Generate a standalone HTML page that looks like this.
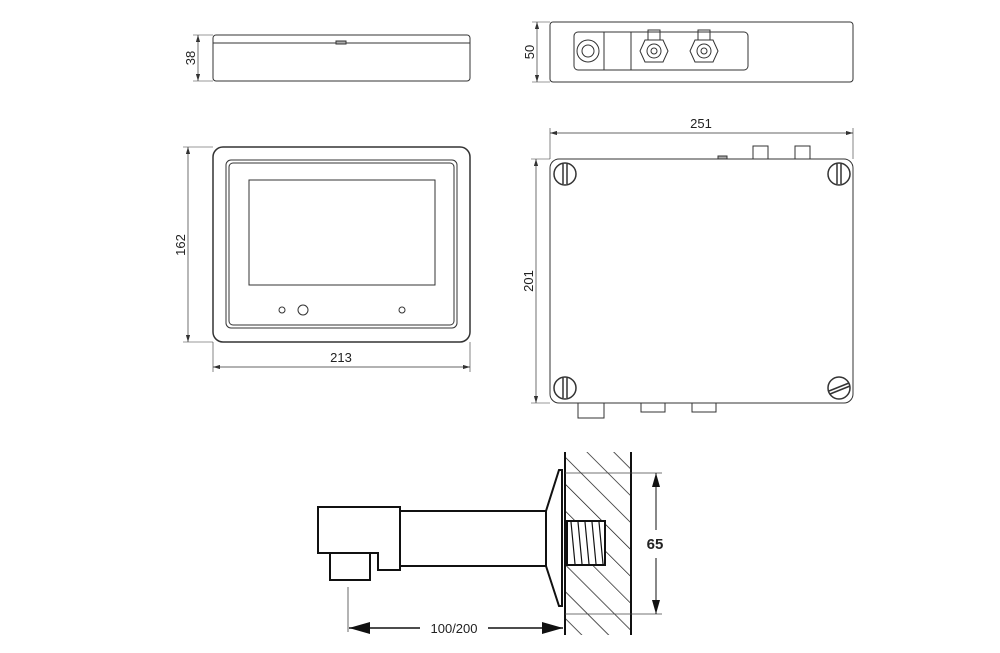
<!DOCTYPE html>
<html><head><style>body{margin:0;background:#fff}svg{display:block}text{font-family:"Liberation Sans",sans-serif;fill:#222}</style></head><body>
<svg width="1000" height="653" viewBox="0 0 1000 653" xmlns="http://www.w3.org/2000/svg">
<defs>
<marker id="a" viewBox="0 0 10 6" refX="10" refY="3" markerWidth="10" markerHeight="6" orient="auto-start-reverse"><path d="M0,0L10,3L0,6z" fill="#333"/></marker>
<marker id="b" viewBox="0 0 14 8" refX="14" refY="4" markerWidth="14" markerHeight="8" orient="auto-start-reverse"><path d="M0,0L14,4L0,8z" fill="#111"/></marker>
<pattern id="h" width="19" height="19" patternUnits="userSpaceOnUse" patternTransform="rotate(-45)"><line x1="0" y1="0" x2="0" y2="19" stroke="#111" stroke-width="1.4"/></pattern>
</defs>
<g fill="none" stroke="#333" stroke-width="1">
<rect x="213" y="35" width="257" height="46" rx="3"/>
<line x1="213" y1="43" x2="470" y2="43"/>
<rect x="336" y="41" width="10" height="3" fill="#aaa"/>
<line x1="198" y1="35" x2="198" y2="81" marker-start="url(#a)" marker-end="url(#a)" stroke-width="0.7"/>
<line x1="193" y1="35" x2="213" y2="35" stroke-width="0.6"/><line x1="193" y1="81" x2="213" y2="81" stroke-width="0.6"/>
<rect x="213" y="147" width="257" height="195" rx="10" stroke-width="1.5"/>
<rect x="226" y="160" width="231" height="168" rx="5"/>
<rect x="229" y="163" width="225" height="162" rx="4"/>
<rect x="249" y="180" width="186" height="105"/>
<circle cx="282" cy="310" r="3"/><circle cx="303" cy="310" r="5"/><circle cx="402" cy="310" r="3"/>
<line x1="188" y1="147" x2="188" y2="342" marker-start="url(#a)" marker-end="url(#a)" stroke-width="0.7"/>
<line x1="183" y1="147" x2="213" y2="147" stroke-width="0.6"/><line x1="183" y1="342" x2="213" y2="342" stroke-width="0.6"/>
<line x1="213" y1="367" x2="470" y2="367" marker-start="url(#a)" marker-end="url(#a)" stroke-width="0.7"/>
<line x1="213" y1="342" x2="213" y2="372" stroke-width="0.6"/><line x1="470" y1="342" x2="470" y2="372" stroke-width="0.6"/>
<rect x="550" y="22" width="303" height="60" rx="3"/>
<rect x="574" y="32" width="174" height="38" rx="4"/>
<line x1="604" y1="32" x2="604" y2="70"/><line x1="631" y1="32" x2="631" y2="70"/>
<circle cx="588" cy="51" r="11"/><circle cx="588" cy="51" r="6"/>
<path d="M645,40h18l5,11l-5,11h-18l-5,-11z"/><circle cx="654" cy="51" r="7"/><circle cx="654" cy="51" r="3"/>
<path d="M695,40h18l5,11l-5,11h-18l-5,-11z"/><circle cx="704" cy="51" r="7"/><circle cx="704" cy="51" r="3"/>
<rect x="648" y="30" width="12" height="10"/><rect x="698" y="30" width="12" height="10"/>
<line x1="537" y1="22" x2="537" y2="82" marker-start="url(#a)" marker-end="url(#a)" stroke-width="0.7"/>
<line x1="532" y1="22" x2="550" y2="22" stroke-width="0.6"/><line x1="532" y1="82" x2="550" y2="82" stroke-width="0.6"/>
<rect x="550" y="159" width="303" height="244" rx="9"/>
<rect x="753" y="146" width="15" height="13"/><rect x="795" y="146" width="15" height="13"/>
<rect x="718" y="156" width="9" height="3" fill="#aaa"/>
<rect x="578" y="403" width="26" height="15"/><rect x="641" y="403" width="24" height="9"/><rect x="692" y="403" width="24" height="9"/>
<g stroke-width="1.5">
<circle cx="565" cy="174" r="11"/><line x1="563" y1="164" x2="563" y2="184"/><line x1="567" y1="164" x2="567" y2="184"/>
<circle cx="839" cy="174" r="11"/><line x1="837" y1="164" x2="837" y2="184"/><line x1="841" y1="164" x2="841" y2="184"/>
<circle cx="565" cy="388" r="11"/><line x1="563" y1="378" x2="563" y2="398"/><line x1="567" y1="378" x2="567" y2="398"/>
<circle cx="839" cy="388" r="11"/><line x1="829" y1="391" x2="849" y2="383"/><line x1="830" y1="394" x2="850" y2="386"/>
</g>
<line x1="550" y1="133" x2="853" y2="133" marker-start="url(#a)" marker-end="url(#a)" stroke-width="0.7"/>
<line x1="550" y1="128" x2="550" y2="159" stroke-width="0.6"/><line x1="853" y1="128" x2="853" y2="159" stroke-width="0.6"/>
<line x1="536" y1="159" x2="536" y2="403" marker-start="url(#a)" marker-end="url(#a)" stroke-width="0.7"/>
<line x1="531" y1="159" x2="550" y2="159" stroke-width="0.6"/><line x1="531" y1="403" x2="550" y2="403" stroke-width="0.6"/>
</g>
<rect x="565" y="452" width="66" height="183" fill="url(#h)"/>
<g fill="none" stroke="#111" stroke-width="2">
<line x1="565" y1="452" x2="565" y2="635"/><line x1="631" y1="452" x2="631" y2="635"/>
<path d="M318,507h82v63h-22v-17h-60z" fill="#fff"/>
<rect x="330" y="553" width="40" height="27" fill="#fff"/>
<path d="M400,511h146M400,566h146" />
<path d="M546,511L559,470h3v136h-3L546,566z" fill="#fff"/>
<rect x="567" y="521" width="38" height="44" fill="#fff"/>
</g>
<g stroke="#111" stroke-width="1.2">
<line x1="571" y1="522" x2="575" y2="564"/><line x1="578" y1="522" x2="582" y2="564"/><line x1="585" y1="522" x2="589" y2="564"/><line x1="592" y1="522" x2="596" y2="564"/><line x1="599" y1="522" x2="603" y2="564"/>
</g>
<g stroke="#444" stroke-width="0.8">
<line x1="565" y1="473" x2="662" y2="473"/><line x1="565" y1="614" x2="662" y2="614"/>
<line x1="348" y1="587" x2="348" y2="632"/>
</g>
<line x1="656" y1="473" x2="656" y2="530" stroke="#111" stroke-width="1" marker-start="url(#b)"/>
<line x1="656" y1="558" x2="656" y2="614" stroke="#111" stroke-width="1" marker-end="url(#b)"/>
<line x1="349" y1="628" x2="420" y2="628" stroke="#111" stroke-width="1.5" marker-start="url(#b)"/>
<line x1="488" y1="628" x2="563" y2="628" stroke="#111" stroke-width="1.5" marker-end="url(#b)"/>
<text x="454" y="633" font-size="13" text-anchor="middle">100/200</text>
<text x="655" y="549" font-size="15" font-weight="bold" text-anchor="middle">65</text>
<text x="341" y="362" font-size="13" text-anchor="middle">213</text>
<text x="701" y="128" font-size="13" text-anchor="middle">251</text>
<text transform="translate(185,245) rotate(-90)" font-size="13" text-anchor="middle">162</text>
<text transform="translate(195,58) rotate(-90)" font-size="13" text-anchor="middle">38</text>
<text transform="translate(534,52) rotate(-90)" font-size="13" text-anchor="middle">50</text>
<text transform="translate(533,281) rotate(-90)" font-size="13" text-anchor="middle">201</text>
</svg>
</body></html>
